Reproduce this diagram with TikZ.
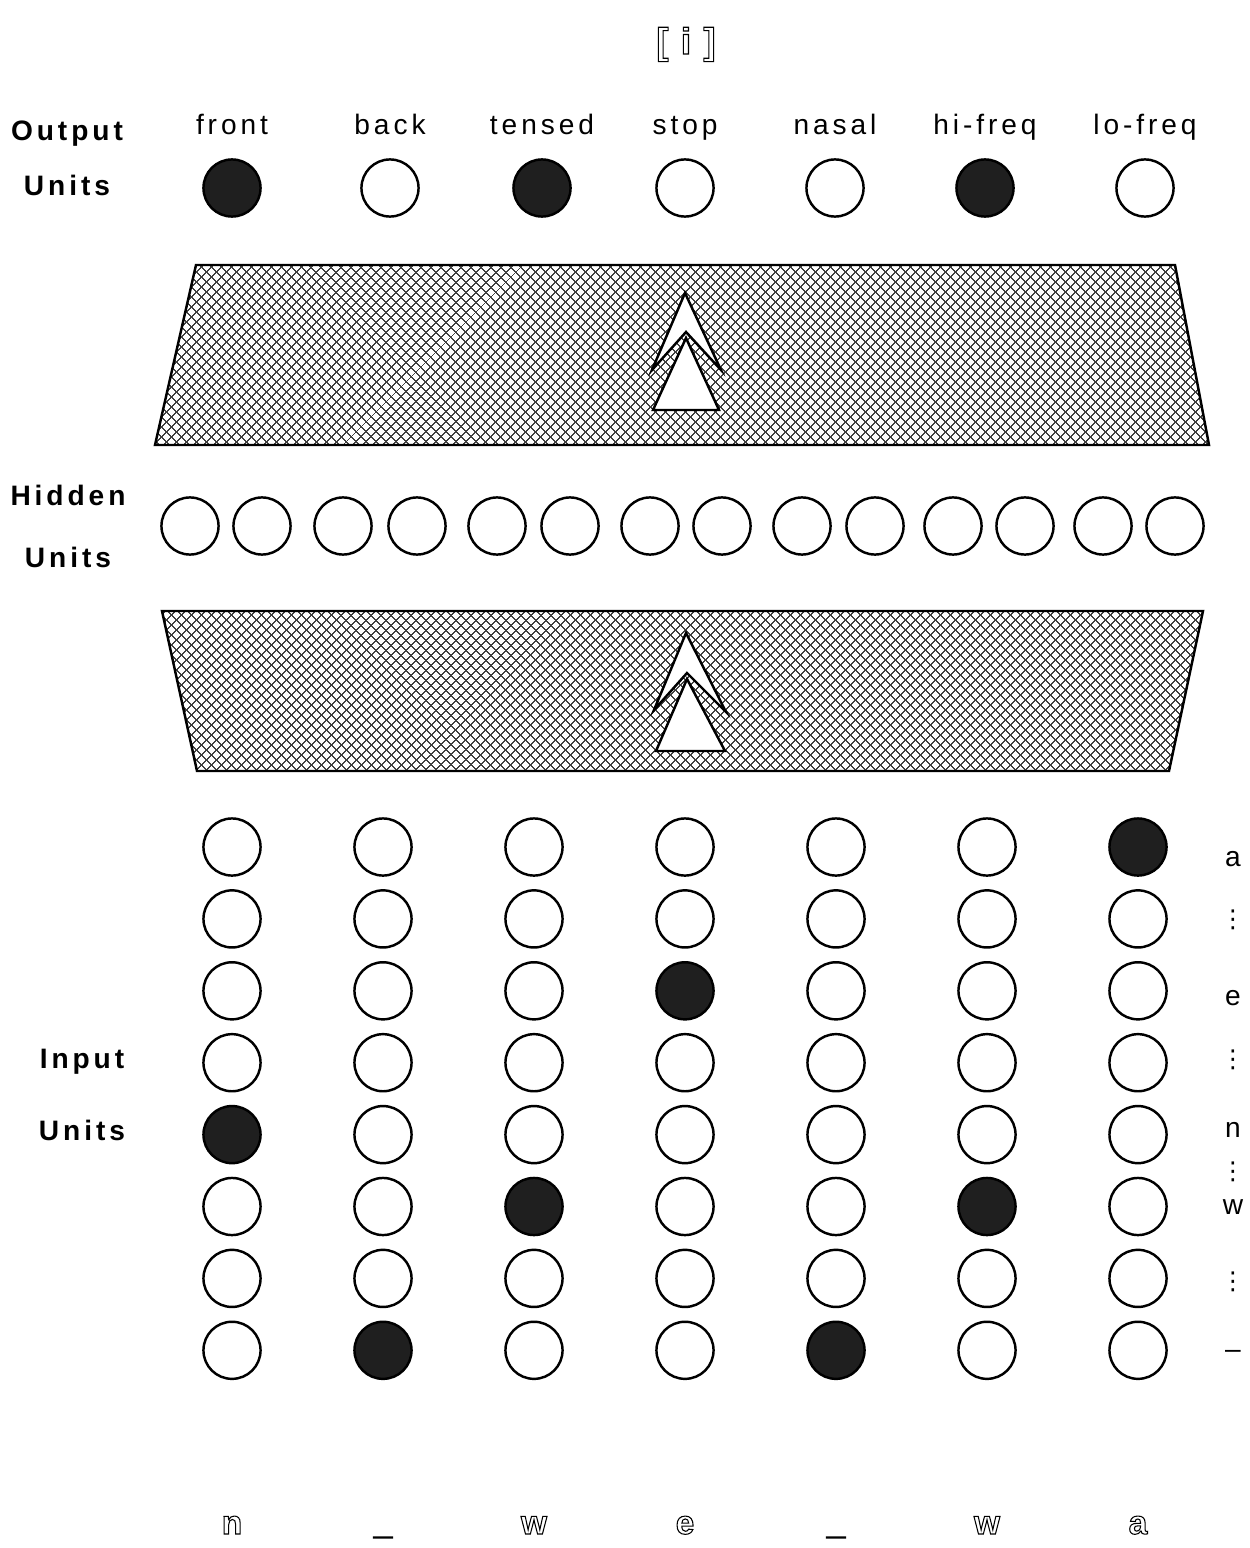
\documentclass[tikz,border=0pt]{standalone}
\usepackage{fontspec}
\setmainfont{Liberation Sans}
\newfontfamily\spacedfont[LetterSpace=14]{Liberation Sans}
\newfontfamily\dotsfont{DejaVu Sans}
\usetikzlibrary{patterns.meta}
\newcommand{\hollowtext}[1]{\special{pdf:literal direct 1 Tr 0.6 w}#1\special{pdf:literal direct 0 Tr}}
\tikzset{
  unit/.style={circle, draw, line width=1.4pt, inner sep=0pt, minimum size=32.5pt},
  active/.style={unit, fill=black!88},
  layer/.style={line width=1.4pt, pattern={Lines[angle=45,distance=4pt,line width=.75pt]}, pattern color=black!75},
  hatch/.style={pattern={Lines[angle=-45,distance=4pt,line width=.75pt]}, pattern color=black!75},
  feature/.style={font=\spacedfont\fontsize{16}{18}\selectfont, anchor=base, inner sep=0pt},
  side/.style={font=\spacedfont\bfseries\fontsize{16}{18}\selectfont, anchor=base, inner sep=0pt},
  symbol/.style={font=\fontsize{16}{18}\selectfont, anchor=base, inner sep=0pt},
  ellipsis/.style={font=\dotsfont\fontsize{14}{16}\selectfont, inner sep=0pt},
  outline/.style={font=\bfseries\fontsize{19}{21}\selectfont, anchor=base, inner sep=0pt},
  arrowhead/.style={draw, fill=white, line width=1.4pt, line join=miter}
}

\begin{document}
\begin{tikzpicture}[x=0.02cm, y=-0.02cm]
  \useasboundingbox (0,0) rectangle (1250,1548);
  \node[outline, font=\bfseries\fontsize{21}{23}\selectfont] (title) at (686,54) {\hollowtext{[\hspace{7pt}i\hspace{7pt}]}};
  % output layer
  \node[side] (outname) at (67,140) {Output};
  \node[side] (outunits) at (67,195) {Units};
  \foreach \name/\x/\kind [count=\i] in {front/232/active, back/390/unit, tensed/542/active, stop/685/unit, nasal/835/unit, hi-freq/985/active, lo-freq/1145/unit}{
    \node[feature] (feat\i) at (\x,134) {\name};
    \node[\kind] (out\i) at (\x,188) {};
  }
  % upper weights
  \draw[layer, preaction={hatch}] (196,265) -- (1175,265) -- (1209,445) -- (155,445) -- cycle;
  \draw[arrowhead] (685,293) -- (721,370) -- (686,332) -- (652,370) -- cycle;
  \draw[arrowhead] (686,338) -- (719,410) -- (653,410) -- cycle;
  % hidden layer
  \node[side] (hidname) at (68,505) {Hidden};
  \node[side] (hidunits) at (68,567) {Units};
  \foreach \x [count=\i] in {190,262,343,417,497,570,650,722,802,875,953,1025,1103,1175}
    \node[unit] (hid\i) at (\x,526) {};
  % lower weights
  \draw[layer, preaction={hatch}] (162,611) -- (1203,611) -- (1169,771) -- (197,771) -- cycle;
  \draw[arrowhead] (686,633) -- (726,712) -- (687,673) -- (654,710) -- cycle;
  \draw[arrowhead] (687,679) -- (725,751) -- (656,751) -- cycle;
  % input layer
  \node[side] (inname) at (82,1068) {Input};
  \node[side] (inunits) at (82,1140) {Units};
  \foreach \pat [count=\r] in {
      {unit,unit,unit,unit,unit,unit,active},
      {unit,unit,unit,unit,unit,unit,unit},
      {unit,unit,unit,active,unit,unit,unit},
      {unit,unit,unit,unit,unit,unit,unit},
      {active,unit,unit,unit,unit,unit,unit},
      {unit,unit,active,unit,unit,active,unit},
      {unit,unit,unit,unit,unit,unit,unit},
      {unit,active,unit,unit,active,unit,unit}}{
    \foreach \kind [count=\c] in \pat
      \node[\kind] (in-\r-\c) at ({232+151*(\c-1)},{847+71.9*(\r-1)}) {};
  }
  % letter labels
  \node[symbol] (sym-a) at (1233,866) {a};
  \node[ellipsis] (dots1) at (1233,920) {⋮};
  \node[symbol] (sym-e) at (1233,1005) {e};
  \node[ellipsis] (dots2) at (1233,1060) {⋮};
  \node[symbol] (sym-n) at (1233,1137) {n};
  \node[ellipsis] (dots3) at (1233,1172) {⋮};
  \node[symbol] (sym-w) at (1233,1214) {w};
  \node[ellipsis] (dots4) at (1233,1282) {⋮};
  \node[symbol] (sym-blank) at (1233,1358) {–};
  % input string
  \foreach \ch [count=\c] in {n,\symbol{95},w,e,\symbol{95},w,a}
    \node[outline] (str\c) at ({232+151*(\c-1)},1534) {\hollowtext{\ch}};
\end{tikzpicture}
\end{document}
